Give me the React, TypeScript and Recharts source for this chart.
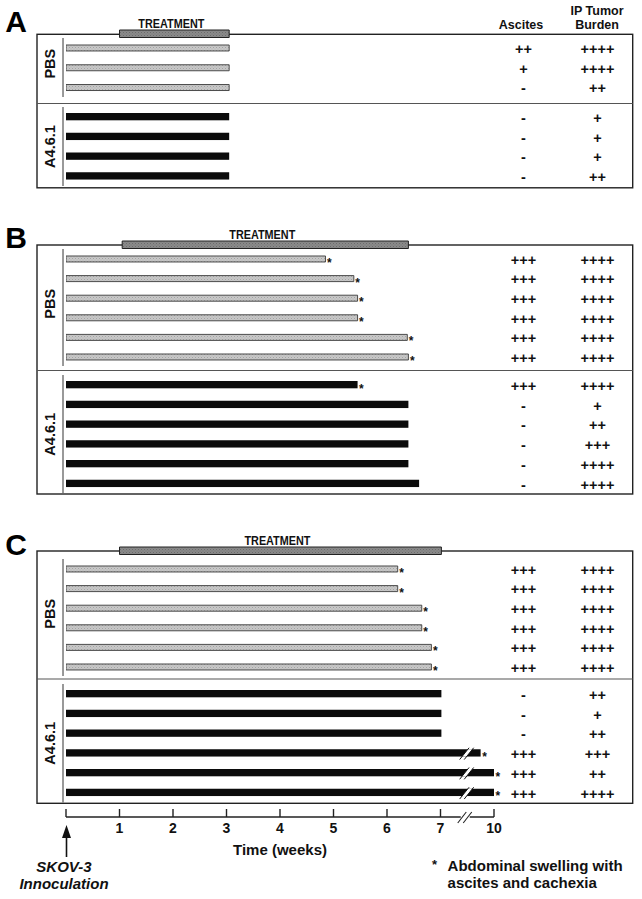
import React from 'react';
import { BarChart, Bar, XAxis, YAxis, LabelList } from 'recharts';

const FONT = '"Liberation Sans", Arial, Helvetica, sans-serif';

// ---------- time axis (broken between 7 and 10 weeks) ----------
const AXIS_WEEKS = [0, 1, 2, 3, 4, 5, 6, 7, 10];
const AXIS_LABELS = ['', '1', '2', '3', '4', '5', '6', '7', '10'];
const BREAK_START = 7;
const BREAK_END = 10;
const toPos = (w: number) =>
  w <= BREAK_START ? w : BREAK_START + (w - BREAK_START) / (BREAK_END - BREAK_START);
const DOMAIN_MAX = toPos(BREAK_END);
const BREAK_MARK = (BREAK_START + DOMAIN_MAX) / 2;
const AXIS_TICKS = [...AXIS_WEEKS.slice(0, 8).map(toPos), BREAK_MARK, toPos(10)];

// ---------- column headers ----------
const COL_ASCITES = 'Ascites';
const COL_TUMOR = ['IP Tumor', 'Burden'];
const GROUP_PBS = 'PBS';
const GROUP_MAB = 'A4.6.1';

// ---------- Panel A ----------
const A_TREATMENT = [1, 3.05];
const A_PBS_END = [3.05, 3.05, 3.05];
const A_PBS_STAR = [0, 0, 0];
const A_PBS_ASCITES = ['++', '+', '-'];
const A_PBS_TUMOR = ['++++', '++++', '++'];
const A_MAB_END = [3.05, 3.05, 3.05, 3.05];
const A_MAB_STAR = [0, 0, 0, 0];
const A_MAB_ASCITES = ['-', '-', '-', '-'];
const A_MAB_TUMOR = ['+', '+', '+', '++'];

// ---------- Panel B ----------
const B_TREATMENT = [1.05, 6.4];
const B_PBS_END = [4.85, 5.38, 5.45, 5.45, 6.38, 6.4];
const B_PBS_STAR = [1, 1, 1, 1, 1, 1];
const B_PBS_ASCITES = ['+++', '+++', '+++', '+++', '+++', '+++'];
const B_PBS_TUMOR = ['++++', '++++', '++++', '++++', '++++', '++++'];
const B_MAB_END = [5.45, 6.4, 6.4, 6.4, 6.4, 6.6];
const B_MAB_STAR = [1, 0, 0, 0, 0, 0];
const B_MAB_ASCITES = ['+++', '-', '-', '-', '-', '-'];
const B_MAB_TUMOR = ['++++', '+', '++', '+++', '++++', '++++'];

// ---------- Panel C ----------
const C_TREATMENT = [1, 7.05];
const C_PBS_END = [6.2, 6.2, 6.65, 6.65, 6.83, 6.83];
const C_PBS_STAR = [1, 1, 1, 1, 1, 1];
const C_PBS_ASCITES = ['+++', '+++', '+++', '+++', '+++', '+++'];
const C_PBS_TUMOR = ['++++', '++++', '++++', '++++', '++++', '++++'];
const C_MAB_END = [7.05, 7.05, 7.05, 9.25, 10, 10];
const C_MAB_STAR = [0, 0, 0, 1, 1, 1];
const C_MAB_ASCITES = ['-', '-', '-', '+++', '+++', '+++'];
const C_MAB_TUMOR = ['++', '+', '++', '+++', '++', '++++'];

// ---------- geometry ----------
const W = 642;
const BOX_LEFT = 37;
const BOX_RIGHT = 632.7;
const GROUP_AXIS_W = 26;
const ZERO_PAD = 3;
const ASC_W = 59;
const TUM_W = 89;
const AXIS_TOP = 800;

type Row = { row: string; pos: number; weeks: number; star: number; asc: string; tum: string };

function buildRows(prefix: string, ends: number[], stars: number[], asc: string[], tum: string[]): Row[] {
  return ends.map((e, i) => ({
    row: `${prefix}${i}`,
    pos: toPos(e),
    weeks: e,
    star: stars[i],
    asc: asc[i],
    tum: tum[i],
  }));
}

const PANELS = [
  {
    id: 'A',
    treatment: A_TREATMENT,
    pbs: buildRows('p', A_PBS_END, A_PBS_STAR, A_PBS_ASCITES, A_PBS_TUMOR),
    mab: buildRows('m', A_MAB_END, A_MAB_STAR, A_MAB_ASCITES, A_MAB_TUMOR),
    L: { boxTop: 34.3, pbsTop: 37.8, pbsH: 59.3, divider: 103.5, mabTop: 106.8, mabH: 79, boxBottom: 187.8, letterY: 32 },
  },
  {
    id: 'B',
    treatment: B_TREATMENT,
    pbs: buildRows('p', B_PBS_END, B_PBS_STAR, B_PBS_ASCITES, B_PBS_TUMOR),
    mab: buildRows('m', B_MAB_END, B_MAB_STAR, B_MAB_ASCITES, B_MAB_TUMOR),
    L: { boxTop: 245, pbsTop: 248.5, pbsH: 117.6, divider: 370.5, mabTop: 374.5, mabH: 118.5, boxBottom: 494, letterY: 248 },
  },
  {
    id: 'C',
    treatment: C_TREATMENT,
    pbs: buildRows('p', C_PBS_END, C_PBS_STAR, C_PBS_ASCITES, C_PBS_TUMOR),
    mab: buildRows('m', C_MAB_END, C_MAB_STAR, C_MAB_ASCITES, C_MAB_TUMOR),
    L: { boxTop: 551, pbsTop: 558.5, pbsH: 117.6, divider: 679, mabTop: 684, mabH: 118.5, boxBottom: 803.3, letterY: 555 },
  },
];

// ---------- custom renderers ----------
function ColTick(props: any) {
  const { x, y, payload, rows, field, colWidth } = props;
  const r = rows.find((d: Row) => d.row === payload.value);
  return (
    <text x={x + colWidth / 2} y={y} dy={6} textAnchor="middle" fontFamily={FONT} fontSize={14.5} fontWeight="bold" fill="#111">
      {r ? r[field] : ''}
    </text>
  );
}

function GroupLabel(props: any) {
  const { viewBox, text, shift } = props;
  const cx = viewBox.x + viewBox.width / 2;
  const cy = viewBox.y + viewBox.height / 2 + (shift || 0);
  return (
    <text x={cx} y={cy} dy={5.2} transform={`rotate(-90 ${cx} ${cy})`} textAnchor="middle" fontFamily={FONT} fontSize={14.5} fontWeight="bold" fill="#111">
      {text}
    </text>
  );
}

function StarLabel(props: any) {
  const vb = props.viewBox || props;
  const { x, y, width, height } = vb;
  if (!props.value) return null;
  return (
    <text x={x + width + 1.5} y={y + height / 2 + 8} fontFamily={FONT} fontSize={12} fontWeight="bold" fill="#111">
      *
    </text>
  );
}

function TreatmentLabel(props: any) {
  const vb = props.viewBox || props;
  const { x, y, width } = vb;
  return (
    <text x={x + width / 2 - 3} y={y - 2.5} textAnchor="middle" textLength={66} lengthAdjust="spacingAndGlyphs" fontFamily={FONT} fontSize={12} fontWeight="bold" fill="#111">
      {props.value}
    </text>
  );
}

function MabShape(props: any) {
  const { x, y, width, height, payload } = props;
  const parts: any[] = [<rect key="r" x={x} y={y} width={width} height={height} fill="#0b0b0b" />];
  if (payload && payload.pos > BREAK_MARK) {
    const bx = x + (width * BREAK_MARK) / payload.pos;
    const yt = y;
    const yb = y + height;
    const cy = y + height / 2;
    const k = 0.8;
    const X = (off: number, yy: number) => bx + off + (cy - yy) * k;
    parts.push(
      <polygon key="w" points={`${X(-2.3, yb)},${yb} ${X(2.3, yb)},${yb} ${X(2.3, yt)},${yt} ${X(-2.3, yt)},${yt}`} fill="#fff" />
    );
    parts.push(<line key="l1" x1={X(-2.3, yb + 3)} y1={yb + 3} x2={X(-2.3, yt - 1.5)} y2={yt - 1.5} stroke="#111" strokeWidth={1} />);
    parts.push(<line key="l2" x1={X(2.3, yb + 3)} y1={yb + 3} x2={X(2.3, yt - 1.5)} y2={yt - 1.5} stroke="#111" strokeWidth={1} />);
  }
  return <g>{parts}</g>;
}

function AxisTick(props: any) {
  const { x, y, payload } = props;
  const v = payload.value;
  if (Math.abs(v - BREAK_MARK) < 1e-6) {
    const bx = x - 2;
    return (
      <g>
        <rect x={bx - 4.5} y={y - 2} width={9} height={4} fill="#fff" />
        <line x1={bx - 7.5} y1={y + 6} x2={bx + 1} y2={y - 5} stroke="#222" strokeWidth={1.1} />
        <line x1={bx - 2} y1={y + 6} x2={bx + 6.5} y2={y - 5} stroke="#222" strokeWidth={1.1} />
      </g>
    );
  }
  const idx = AXIS_WEEKS.findIndex((w) => Math.abs(toPos(w) - v) < 1e-6);
  const label = idx >= 0 ? AXIS_LABELS[idx] : '';
  return (
    <g>
      <line x1={x} x2={x} y1={y} y2={y - 8} stroke="#222" strokeWidth={1.4} />
      {label ? (
        <text x={x} y={y + 16.3} textAnchor="middle" fontFamily={FONT} fontSize={14} fontWeight="bold" fill="#111">
          {label}
        </text>
      ) : null}
    </g>
  );
}

function TimeLabel(props: any) {
  const { viewBox } = props;
  return (
    <text x={viewBox.x + viewBox.width / 2} y={viewBox.y + 37.6} textAnchor="middle" fontFamily={FONT} fontSize={15} fontWeight="bold" fill="#111">
      Time (weeks)
    </text>
  );
}

// ---------- charts ----------
function GroupChart({ rows, kind, top, height }: { rows: Row[]; kind: 'pbs' | 'mab'; top: number; height: number }) {
  const isPbs = kind === 'pbs';
  return (
    <div style={{ position: 'absolute', left: 0, top, width: W, height }}>
      <BarChart layout="vertical" width={W} height={height} data={rows} margin={{ top: 0, right: 0, bottom: 0, left: BOX_LEFT }}>
        <XAxis type="number" domain={[0, DOMAIN_MAX]} allowDataOverflow hide padding={{ left: ZERO_PAD, right: 0 }} />
        <YAxis
          yAxisId="rows"
          type="category"
          dataKey="row"
          width={GROUP_AXIS_W}
          tick={false}
          tickLine={false}
          axisLine={{ stroke: '#555', strokeWidth: 1.2 }}
          label={<GroupLabel text={isPbs ? GROUP_PBS : GROUP_MAB} shift={isPbs ? -4 : 0} />}
        />
        <YAxis
          yAxisId="asc"
          orientation="right"
          type="category"
          dataKey="row"
          width={ASC_W}
          axisLine={false}
          tickLine={false}
          tickSize={0}
          tickMargin={0}
          interval={0}
          tick={<ColTick rows={rows} field="asc" colWidth={ASC_W} />}
        />
        <YAxis
          yAxisId="tum"
          orientation="right"
          type="category"
          dataKey="row"
          width={TUM_W}
          axisLine={false}
          tickLine={false}
          tickSize={0}
          tickMargin={0}
          interval={0}
          tick={<ColTick rows={rows} field="tum" colWidth={TUM_W} />}
        />
        {isPbs ? (
          <Bar yAxisId="rows" dataKey="pos" barSize={6} fill="url(#pbsFill)" stroke="#3a3a3a" strokeWidth={0.9} isAnimationActive={false}>
            <LabelList dataKey="star" content={<StarLabel />} />
          </Bar>
        ) : (
          <Bar yAxisId="rows" dataKey="pos" barSize={7.3} fill="#0b0b0b" shape={<MabShape />} isAnimationActive={false}>
            <LabelList dataKey="star" content={<StarLabel />} />
          </Bar>
        )}
      </BarChart>
    </div>
  );
}

function TreatmentChart({ range, boxTop }: { range: number[]; boxTop: number }) {
  const data = [{ row: 't', range: [toPos(range[0]), toPos(range[1])], label: 'TREATMENT' }];
  return (
    <div style={{ position: 'absolute', left: 0, top: boxTop - 20, width: W, height: 24 }}>
      <BarChart
        layout="vertical"
        width={W}
        height={24}
        data={data}
        margin={{ top: 16, right: ASC_W + TUM_W, bottom: 0, left: BOX_LEFT + GROUP_AXIS_W }}
      >
        <XAxis type="number" domain={[0, DOMAIN_MAX]} allowDataOverflow hide padding={{ left: ZERO_PAD, right: 0 }} />
        <YAxis type="category" dataKey="row" hide />
        <Bar dataKey="range" barSize={7.5} fill="url(#treatFill)" stroke="#222" strokeWidth={1} isAnimationActive={false}>
          <LabelList dataKey="label" content={<TreatmentLabel />} />
        </Bar>
      </BarChart>
    </div>
  );
}

function TimeAxis() {
  return (
    <div style={{ position: 'absolute', left: 0, top: AXIS_TOP, width: W, height: 60 }}>
      <BarChart layout="vertical" width={W} height={60} data={[]} margin={{ top: 0, right: ASC_W + TUM_W, bottom: 0, left: BOX_LEFT + GROUP_AXIS_W + ZERO_PAD }}>
        <XAxis
          type="number"
          domain={[0, DOMAIN_MAX]}
          allowDataOverflow
          ticks={AXIS_TICKS}
          interval={0}
          height={43}
          tickSize={0}
          tickMargin={0}
          tickLine={false}
          axisLine={{ stroke: '#222', strokeWidth: 1.4 }}
          tick={<AxisTick />}
          label={<TimeLabel />}
        />
        <YAxis type="category" hide />
      </BarChart>
    </div>
  );
}

function Background() {
  return (
    <svg width={W} height={899} style={{ position: 'absolute', left: 0, top: 0 }}>
      <defs>
        <pattern id="pbsFill" width="3" height="3" patternUnits="userSpaceOnUse">
          <rect width="3" height="3" fill="#c8c8c8" />
          <rect x="0" y="0" width="1" height="1" fill="#a2a2a2" />
          <rect x="1.5" y="1.5" width="1" height="1" fill="#b0b0b0" />
        </pattern>
        <pattern id="treatFill" width="3" height="3" patternUnits="userSpaceOnUse">
          <rect width="3" height="3" fill="#8a8a8a" />
          <rect x="0" y="0" width="1" height="1" fill="#6c6c6c" />
          <rect x="1.5" y="1.5" width="1" height="1" fill="#777" />
        </pattern>
      </defs>
      {PANELS.map((p) => (
        <g key={p.id}>
          <text x={16} y={p.L.letterY} textAnchor="middle" fontFamily={FONT} fontSize={30} fontWeight="bold" fill="#000">
            {p.id}
          </text>
          <rect x={BOX_LEFT} y={p.L.boxTop} width={BOX_RIGHT - BOX_LEFT} height={p.L.boxBottom - p.L.boxTop} fill="none" stroke="#222" strokeWidth={1.4} />
          <line x1={BOX_LEFT} x2={BOX_RIGHT} y1={p.L.divider} y2={p.L.divider} stroke="#555" strokeWidth={1.2} />
        </g>
      ))}
      <text x={521} y={29.3} textAnchor="middle" fontFamily={FONT} fontSize={12.5} fontWeight="bold" fill="#111">{COL_ASCITES}</text>
      <text x={597} y={15} textAnchor="middle" fontFamily={FONT} fontSize={12.5} fontWeight="bold" fill="#111">{COL_TUMOR[0]}</text>
      <text x={597} y={29.3} textAnchor="middle" fontFamily={FONT} fontSize={12.5} fontWeight="bold" fill="#111">{COL_TUMOR[1]}</text>
      {/* inoculation arrow */}
      <line x1={66.5} x2={66.5} y1={836} y2={857} stroke="#111" strokeWidth={1.6} />
      <polygon points="66.5,825 62,838 71,838" fill="#111" />
      <text x={64} y={872} textAnchor="middle" fontFamily={FONT} fontSize={15} fontWeight="bold" fontStyle="italic" fill="#111">SKOV-3</text>
      <text x={64} y={889} textAnchor="middle" fontFamily={FONT} fontSize={15} fontWeight="bold" fontStyle="italic" fill="#111">Innoculation</text>
      {/* footnote */}
      <text x={432} y={869} fontFamily={FONT} fontSize={13} fontWeight="bold" fill="#111">*</text>
      <text x={447.6} y={871} fontFamily={FONT} fontSize={15} fontWeight="bold" fill="#111">Abdominal swelling with</text>
      <text x={447.6} y={887.7} fontFamily={FONT} fontSize={15} fontWeight="bold" fill="#111">ascites and cachexia</text>
    </svg>
  );
}

export default function App() {
  return (
    <div style={{ position: 'absolute', left: 0, top: 0, width: W, height: 899, background: '#fff', overflow: 'hidden' }}>
      <Background />
      {PANELS.map((p) => (
        <React.Fragment key={p.id}>
          <GroupChart rows={p.pbs} kind="pbs" top={p.L.pbsTop} height={p.L.pbsH} />
          <GroupChart rows={p.mab} kind="mab" top={p.L.mabTop} height={p.L.mabH} />
          <TreatmentChart range={p.treatment} boxTop={p.L.boxTop} />
        </React.Fragment>
      ))}
      <TimeAxis />
    </div>
  );
}
